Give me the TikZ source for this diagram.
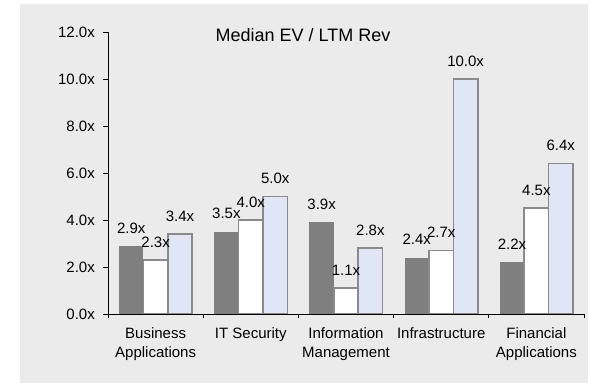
\documentclass[tikz,border=0pt]{standalone}
\usepackage{fontspec}
\setmainfont{Liberation Sans}

\definecolor{chartbg}{HTML}{EBEBEB}
\definecolor{bardark}{HTML}{7F7F7F}
\definecolor{barline}{HTML}{8A8A8A}
\definecolor{barblue}{HTML}{E0E6F5}

\begin{document}
\begin{tikzpicture}[x=1pt,y=1pt,
		vallabel/.style={font=\fontsize{15}{18}\selectfont, inner sep=0pt},
		catlabel/.style={font=\fontsize{15}{19}\selectfont, inner sep=0pt, align=center, anchor=north},
		darkbar/.style={fill=bardark},
		whitebar/.style={fill=white, draw=barline, line width=1.5pt},
		bluebar/.style={fill=barblue, draw=barline, line width=1.5pt}]
			\useasboundingbox (0,0) rectangle (590,383);
			\fill[chartbg] (20,0) rectangle (588,379);

			% title
			\node[font=\fontsize{18}{20}\selectfont, inner sep=0pt] (title) at (303,348) {Median EV / LTM Rev};

			% bars and value labels
			\foreach \i/\a/\b/\c in {0/2.9/2.3/3.4, 1/3.5/4.0/5.0, 2/3.9/1.1/2.8, 3/2.4/2.7/10.0, 4/2.2/4.5/6.4} {
				\fill[darkbar] (119+95.2*\i,69) rectangle (143.4+95.2*\i,69+23.5*\a);
				\draw[whitebar] (143.4+95.2*\i,69) rectangle (167.8+95.2*\i,69+23.5*\b);
				\draw[bluebar] (167.8+95.2*\i,69) rectangle (192.2+95.2*\i,69+23.5*\c);
				\node[vallabel] (val\i a) at (131.2+95.2*\i,87+23.5*\a) {\a x};
				\node[vallabel] (val\i b) at (155.6+95.2*\i,87+23.5*\b) {\b x};
				\node[vallabel] (val\i c) at (180+95.2*\i,87+23.5*\c) {\c x};
			}

			% axes
			\draw[line width=0.9pt] (108,351) -- (108,69) -- (584,69);
			\foreach \v in {0,2,...,12} {
				\draw[line width=0.9pt] (103,69+23.5*\v) -- (108,69+23.5*\v);
				\node[vallabel, anchor=east] (tick\v) at (95,69+23.5*\v) {\v.0x};
			}
			\foreach \k in {0,...,5}
				\draw[line width=0.9pt] (108+95.2*\k,69) -- (108+95.2*\k,65);

			% category labels
			\foreach \i/\name in {0/{Business\\Applications}, 1/{IT Security}, 2/{Information\\Management}, 3/{Infrastructure}, 4/{Financial\\Applications}}
				\node[catlabel] (cat\i) at (155.6+95.2*\i,55.5) {\name};
		\end{tikzpicture}
\end{document}
